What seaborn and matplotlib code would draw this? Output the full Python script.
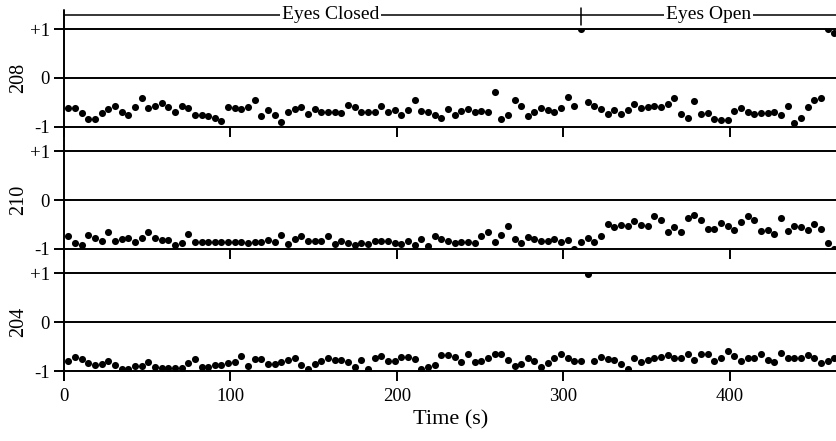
import numpy as np
import pandas as pd
import matplotlib
matplotlib.use("Agg")
import matplotlib.pyplot as plt
from matplotlib.lines import Line2D
import seaborn as sns

# Sampling grid (one point every 4 s)
time_s = np.arange(116) * 4 + 2.6

ch208 = [
    -0.62, -0.61, -0.71, -0.84, -0.84, -0.72, -0.63, -0.57, -0.69, -0.77,
    -0.59, -0.41, -0.61, -0.57, -0.52, -0.60, -0.69, -0.57, -0.62, -0.76,
    -0.76, -0.79, -0.83, -0.88, -0.59, -0.61, -0.63, -0.59, -0.46, -0.78,
    -0.66, -0.77, -0.90, -0.70, -0.64,
    -0.59, -0.74, -0.63, -0.70, -0.70, -0.70, -0.72, -0.55, -0.59, -0.70,
    -0.70, -0.69, -0.57, -0.70, -0.66, -0.77, -0.66, -0.45, -0.67, -0.70,
    -0.77, -0.83, -0.64, -0.76, -0.67, -0.64, -0.69, -0.67, -0.69, -0.28,
    -0.84, -0.76, -0.46, -0.57, -0.79, -0.70, -0.62, -0.66, -0.70,
    -0.61, -0.40, -0.57, 1.00, -0.50, -0.57, -0.63, -0.74, -0.66, -0.74,
    -0.66, -0.53, -0.61, -0.60, -0.57, -0.59, -0.54, -0.41, -0.74, -0.83,
    -0.47, -0.74, -0.72, -0.85, -0.86, -0.86, -0.67, -0.62, -0.69, -0.74,
    -0.72, -0.72, -0.69, -0.76, -0.57, -0.93, -0.83, -0.59, -0.45, -0.41,
    1.00, 0.93,
]

ch210 = [
    -0.73, -0.87, -0.92, -0.72, -0.77, -0.83, -0.66, -0.83, -0.80, -0.77,
    -0.86, -0.78, -0.66, -0.77, -0.81, -0.81, -0.92, -0.88, -0.69, -0.85,
    -0.85, -0.85, -0.85, -0.86, -0.85, -0.85, -0.85, -0.88, -0.85, -0.85,
    -0.81, -0.86, -0.71, -0.90, -0.79,
    -0.74, -0.83, -0.83, -0.83, -0.74, -0.90, -0.83, -0.88, -0.92, -0.88,
    -0.90, -0.83, -0.83, -0.83, -0.88, -0.90, -0.83, -0.92, -0.80, -0.93,
    -0.73, -0.80, -0.83, -0.88, -0.85, -0.86, -0.88, -0.74, -0.66, -0.85,
    -0.72, -0.52, -0.80, -0.88, -0.76, -0.79, -0.83, -0.83, -0.80,
    -0.85, -0.81, -0.99, -0.86, -0.77, -0.85, -0.74, -0.48, -0.55, -0.50,
    -0.52, -0.42, -0.50, -0.52, -0.33, -0.40, -0.66, -0.55, -0.66, -0.37,
    -0.30, -0.41, -0.59, -0.59, -0.47, -0.52, -0.62, -0.45, -0.32, -0.40,
    -0.63, -0.62, -0.69, -0.37, -0.64, -0.52, -0.55, -0.61, -0.49, -0.59,
    -0.88, -0.99,
]

ch204 = [
    -0.79, -0.71, -0.76, -0.84, -0.88, -0.86, -0.79, -0.88, -0.95, -0.96,
    -0.89, -0.89, -0.82, -0.91, -0.93, -0.93, -0.93, -0.93, -0.84, -0.75,
    -0.92, -0.91, -0.88, -0.88, -0.84, -0.81, -0.69, -0.89, -0.76, -0.75,
    -0.86, -0.86, -0.81, -0.77, -0.74,
    -0.88, -0.95, -0.86, -0.79, -0.74, -0.77, -0.77, -0.82, -0.92, -0.77,
    -0.95, -0.73, -0.69, -0.79, -0.79, -0.71, -0.72, -0.75, -0.95, -0.91,
    -0.88, -0.68, -0.68, -0.71, -0.82, -0.65, -0.81, -0.79, -0.74, -0.66,
    -0.65, -0.77, -0.90, -0.86, -0.74, -0.79, -0.92, -0.84, -0.74,
    -0.66, -0.74, -0.79, -0.79, 0.99, -0.79, -0.71, -0.75, -0.77, -0.86,
    -0.95, -0.74, -0.81, -0.77, -0.74, -0.72, -0.67, -0.74, -0.74, -0.65,
    -0.77, -0.65, -0.65, -0.79, -0.74, -0.58, -0.69, -0.79, -0.73, -0.74,
    -0.65, -0.77, -0.81, -0.64, -0.74, -0.74, -0.74, -0.68, -0.74, -0.84,
    -0.79, -0.74,
]

channels = ["208", "210", "204"]
series = [ch208, ch210, ch204]
ytick_vals = [-1, 0, 1]
ytick_labels = ["-1", "0", "+1"]
xtick_vals = [0, 100, 200, 300, 400]
conditions = ["Eyes Closed", "Eyes Open"]
condition_edges = [0, 310.3, 464.3]

sns.set_style("white")
plt.rcParams["font.family"] = ["Liberation Serif", "DejaVu Serif"]

fig = plt.figure(figsize=(8.37, 4.41), dpi=100)
left = 64 / 837
width = 1 - left
bottoms = [0.7127, 0.4354, 0.1587]
height = 0.2212
lw = 1.4

axes = []
for name, vals, b in zip(channels, series, bottoms):
    ax = fig.add_axes([left, b, width, height])
    df = pd.DataFrame({"t": time_s, "v": vals})
    sns.scatterplot(data=df, x="t", y="v", ax=ax, color="black", s=26,
                    linewidth=0, legend=False, zorder=3)
    for yv in ytick_vals:
        ax.axhline(yv, color="black", lw=lw, zorder=2, clip_on=False)
    ax.set_xlim(condition_edges[0], condition_edges[-1])
    ax.set_ylim(-1, 1)
    for s in ax.spines.values():
        s.set_visible(False)
    ax.set_yticks(ytick_vals, ytick_labels)
    ax.set_xticks(xtick_vals)
    ax.tick_params(axis="both", direction="out", length=7, width=lw,
                   color="black", labelsize=13.5, labelcolor="black",
                   bottom=True, left=True)
    ax.tick_params(axis="y", pad=3)
    ax.tick_params(axis="x", pad=5)
    ax.set_ylabel(name, fontsize=14.5, color="black")
    ax.yaxis.set_label_coords(-0.046, 0.5)
    ax.set_xlabel("")
    ax.grid(False)
    axes.append(ax)

for ax in axes[:-1]:
    ax.tick_params(axis="x", labelbottom=False)
axes[-1].set_xlabel("Time (s)", fontsize=16, color="black", labelpad=4)

# Condition bracket above the top panel
top = axes[0]
yb = 1.298
top.plot([condition_edges[0], condition_edges[-1]], [yb, yb], color="black",
         lw=1.1, clip_on=False)
top.plot([condition_edges[1], condition_edges[1]], [1.09, 1.44], color="black",
         lw=1.1, clip_on=False)
for label, cx in zip(conditions, [160, 387]):
    top.text(cx, yb, label, ha="center", va="center", fontsize=14,
             color="black", clip_on=False,
             bbox=dict(facecolor="white", edgecolor="none", pad=1.5))

# Continuous left axis line through all panels
fig.add_artist(Line2D([left, left], [1 - 380 / 441, 1 - 9.5 / 441],
                      transform=fig.transFigure, color="black", lw=lw))

fig.savefig("out.png", dpi=100)
